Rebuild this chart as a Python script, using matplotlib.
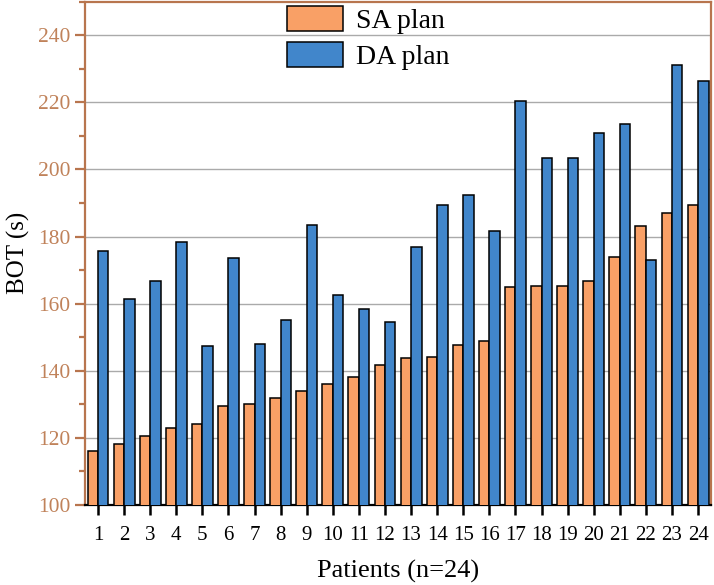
import numpy as np
import matplotlib.pyplot as plt
from matplotlib.ticker import MultipleLocator

# BOT per patient
patients = np.arange(1, 25)
sa_plan = [116.2, 118, 120.5, 123, 124, 129.5, 130, 132, 134, 135.9, 138, 141.8,
           143.8, 144.1, 147.7, 148.9, 165, 165.2, 165.2, 166.8, 174, 183, 187, 189.3]
da_plan = [175.6, 161.4, 166.7, 178.5, 147.4, 173.6, 148, 155, 183.4, 162.6, 158.4, 154.5,
           177, 189.5, 192.3, 181.6, 220.4, 203.3, 203.3, 211, 213.5, 173.1, 231.1, 226.4]

brown = '#B8754E'
plt.rcParams['font.family'] = ['Liberation Serif', 'DejaVu Serif']

fig = plt.figure(figsize=(7.14, 5.85), dpi=100)
ax = fig.add_axes([0.119, 0.137, 0.877, 0.860])

w = 0.4
ax.bar(patients - w/2, sa_plan, w, color='#F9A066', edgecolor='black', linewidth=1.1,
       label='SA plan', zorder=3)
ax.bar(patients + w/2, da_plan, w, color='#4186CB', edgecolor='black', linewidth=1.1,
       label='DA plan', zorder=3)

ax.set_xlim(0.5, 24.5)
ax.set_ylim(100, 250)
ax.set_xticks(patients)
ax.yaxis.set_major_locator(MultipleLocator(20))
ax.yaxis.set_minor_locator(MultipleLocator(10))
ax.grid(axis='y', color='#AAAAAA', linewidth=1, zorder=0)

for s in ['left', 'right', 'top']:
    ax.spines[s].set_color(brown)
    ax.spines[s].set_linewidth(1.6)
ax.spines['bottom'].set_color('black')
ax.spines['bottom'].set_linewidth(1.6)

ax.tick_params(axis='x', direction='out', length=7, width=1.8, colors='black',
               labelsize=15, pad=8)
ax.tick_params(axis='y', which='major', direction='out', length=7, width=1.6,
               colors=brown, labelcolor='#C0825A', labelsize=15.5)
ax.tick_params(axis='y', which='minor', direction='out', length=4, width=1.6, colors=brown)

ax.set_xlabel('Patients (n=24)', fontsize=19, labelpad=11)
ax.set_ylabel('BOT (s)', fontsize=18, labelpad=6)

ax.legend(loc='upper left', bbox_to_anchor=(0.316, 1.0), frameon=False, fontsize=20,
          handlelength=2.0, handleheight=1.0, borderaxespad=0, borderpad=0.15,
          labelspacing=0.3, handletextpad=0.5)

fig.savefig('out.png', dpi=100)
